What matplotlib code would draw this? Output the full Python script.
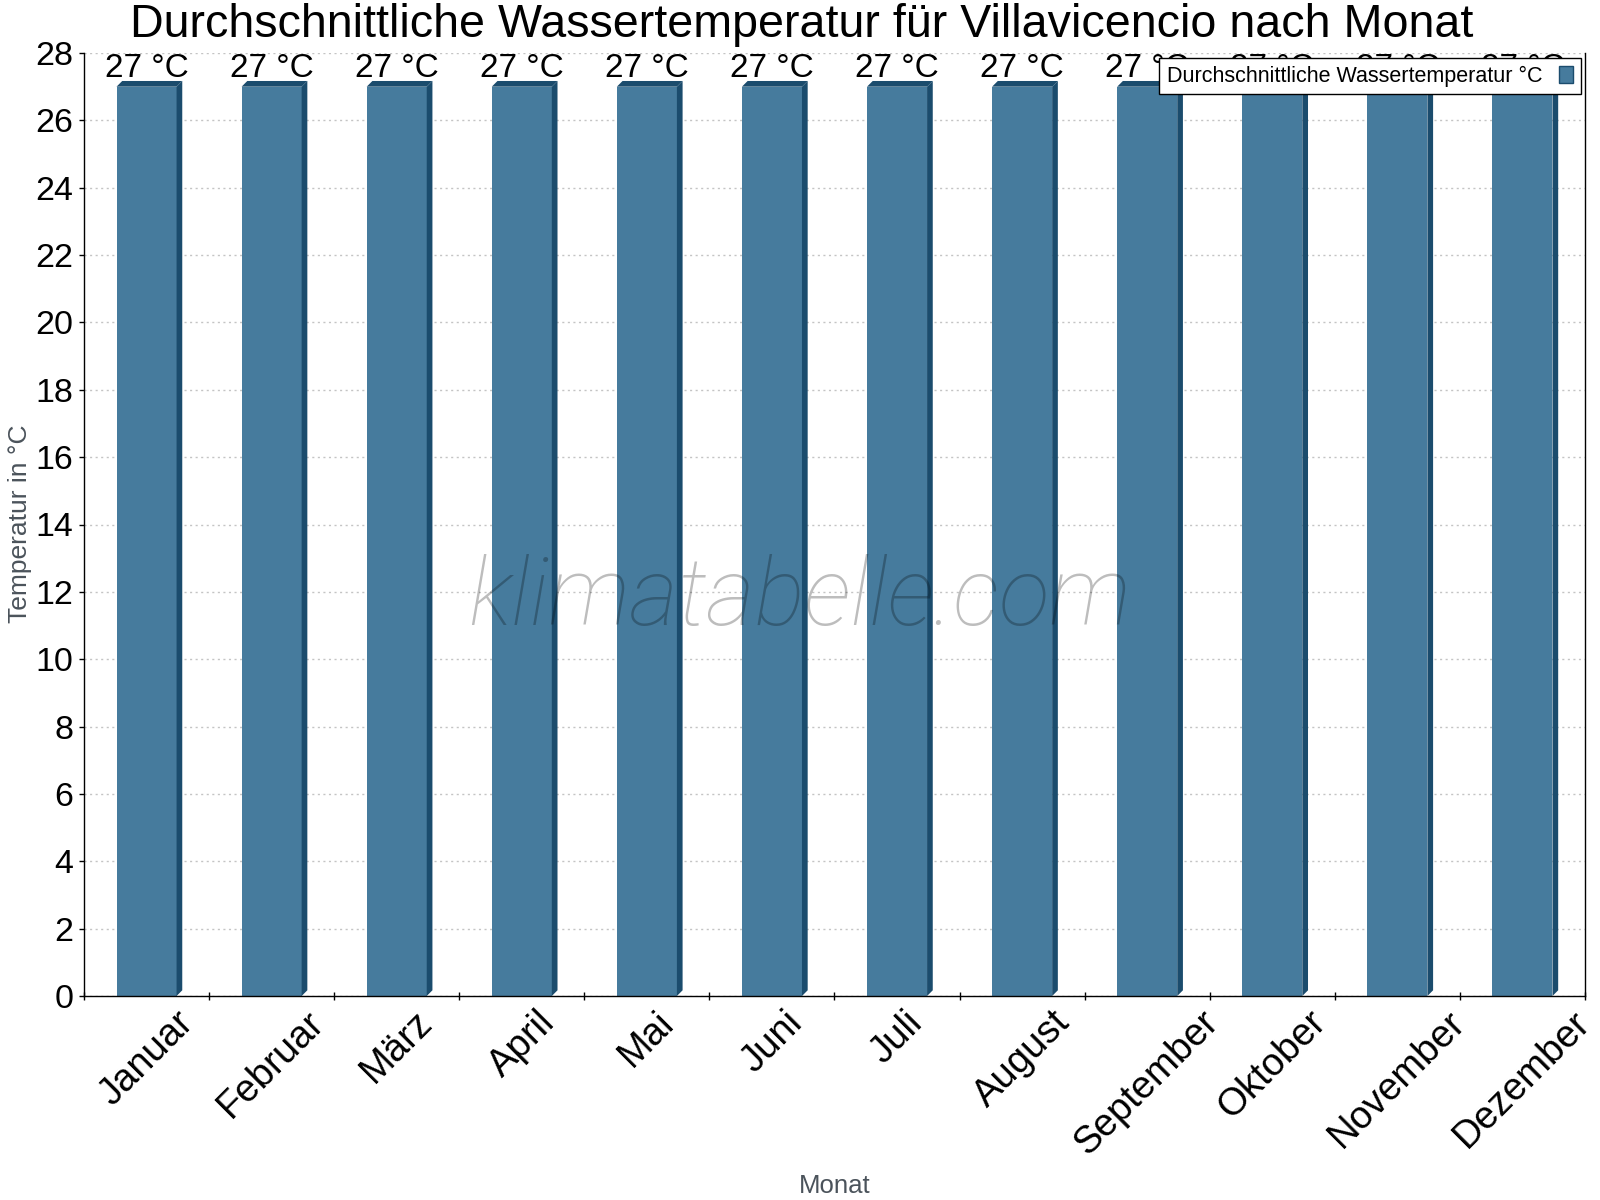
import matplotlib
matplotlib.use('Agg')
import matplotlib.pyplot as plt
from matplotlib.patches import Polygon, Patch

# Durchschnittliche Wassertemperatur je Monat (Villavicencio)
monate = ['Januar', 'Februar', 'März', 'April', 'Mai', 'Juni', 'Juli',
          'August', 'September', 'Oktober', 'November', 'Dezember']
wassertemp = [27, 27, 27, 27, 27, 27, 27, 27, 27, 27, 27, 27]
yticks = list(range(0, 29, 2))

front = '#467b9d'
dunkel = '#1b4c6d'
grau = '#4b535b'

plt.rcParams['font.family'] = ['Liberation Sans', 'DejaVu Sans']

fig = plt.figure(figsize=(16, 12), dpi=100)
ax = fig.add_axes([84 / 1600, 1 - 996 / 1200, 1501 / 1600, 943 / 1200])

ax.set_xlim(-0.5, len(monate) - 0.5)
ax.set_ylim(0, 28)

x = list(range(len(monate)))
breite = 0.48
ax.bar(x, wassertemp, width=breite, color=front, zorder=2)

# 3D-Effekt: Seiten- und Deckflaeche
tiefe_px = 5.7
dx = tiefe_px / (ax.bbox.width / 12)
dy = tiefe_px / (ax.bbox.height / 28)
for i, v in zip(x, wassertemp):
    x0, x1 = i - breite / 2, i + breite / 2
    seite = Polygon([(x1, 0), (x1 + dx, dy), (x1 + dx, v + dy), (x1, v)],
                    closed=True, facecolor=dunkel, edgecolor='none', zorder=2)
    deckel = Polygon([(x0, v), (x0 + dx, v + dy), (x1 + dx, v + dy), (x1, v)],
                     closed=True, facecolor=dunkel, edgecolor='none', zorder=2)
    ax.add_patch(seite)
    ax.add_patch(deckel)
    ax.annotate(f'{v} °C', xy=(i, v), xytext=(0, 7.2), textcoords='offset points',
                ha='center', va='baseline', fontsize=24, color='black', zorder=3)

ax.set_yticks(yticks)
ax.set_yticklabels([str(t) for t in yticks], fontsize=24.5)
ax.tick_params(axis='y', length=3.6, width=1, pad=4, color='black')

ax.set_xticks(x)
ax.set_xticklabels(monate, rotation=45, ha='center', fontsize=27.5)
ax.set_xticks([i - 0.5 for i in range(len(monate) + 1)], minor=True)
ax.tick_params(axis='x', which='major', length=0, pad=6)
ax.tick_params(axis='x', which='minor', length=5.8, width=1, direction='inout', color='black')

ax.grid(axis='y', color='#c4c4c4', linestyle=(0, (1.5, 2.5)), linewidth=1, zorder=0)
ax.set_axisbelow(True)

ax.spines['top'].set_visible(False)
for s in ['left', 'bottom', 'right']:
    ax.spines[s].set_color('black')
    ax.spines[s].set_linewidth(1)

fig.text(802 / 1600, 1 - 37 / 1200,
         'Durchschnittliche Wassertemperatur für Villavicencio nach Monat',
         ha='center', va='baseline', fontsize=33.6, color='black')
fig.text(20 / 1600, 1 - 524 / 1200, 'Temperatur in °C', rotation=90,
         ha='center', va='center', fontsize=19, color=grau)
fig.text(835 / 1600, 1 - 1193 / 1200, 'Monat', ha='center', va='baseline',
         fontsize=18.5, color=grau)

# Wasserzeichen
fig.text(800 / 1600, 1 - 625 / 1200, 'klimatabelle.com', ha='center', va='baseline',
         fontsize=67.5, family='Roboto', style='italic', weight='light',
         color='black', alpha=0.26, zorder=10)

handle = Patch(facecolor=front, edgecolor=dunkel, linewidth=1)
leg = ax.legend([handle], ['Durchschnittliche Wassertemperatur °C'],
                loc='upper right', bbox_to_anchor=(1581 / 1600, 1 - 58 / 1200),
                bbox_transform=fig.transFigure, borderaxespad=0, markerfirst=False,
                fontsize=15.5, handlelength=0.65, handleheight=0.85, handletextpad=0.8,
                fancybox=False, framealpha=1, edgecolor='black', borderpad=0.35)
leg.get_frame().set_linewidth(1)
leg.set_zorder(5)

fig.savefig('out.png', dpi=100)
